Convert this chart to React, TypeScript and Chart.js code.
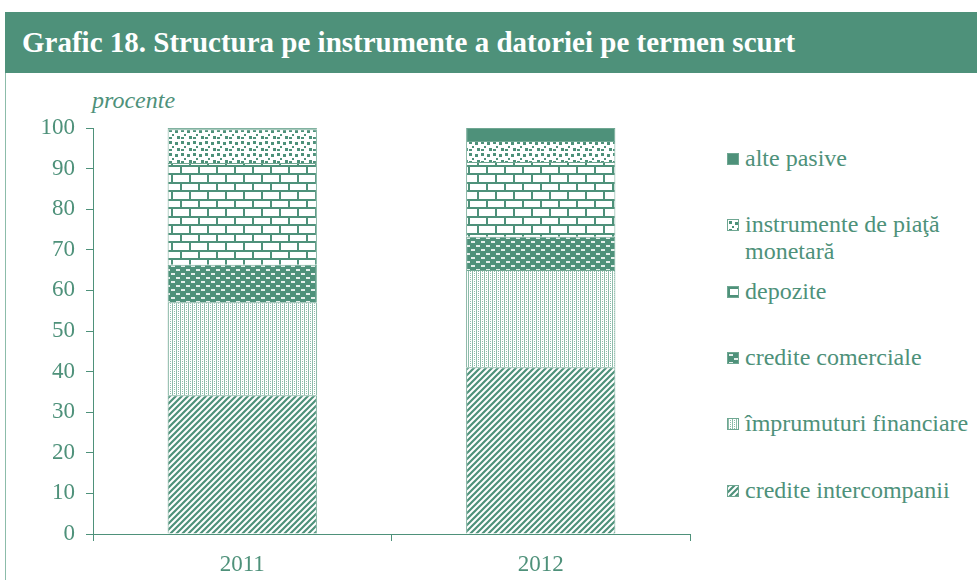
import React, { useEffect, useRef } from "react";
import { Chart, registerables } from "chart.js";

Chart.register(...registerables);

const categories = ["2011", "2012"];
const crediteIntercompanii = [34.2, 41.1];
const imprumuturiFinanciare = [22.9, 23.9];
const crediteComerciale = [9.2, 8.2];
const depozite = [25.1, 18.4];
const instrumentePiata = [8.3, 5.2];
const altePasive = [0.3, 3.2];
const yTicks = [0, 10, 20, 30, 40, 50, 60, 70, 80, 90, 100];

const G = "#4E917A";
const FONT = "'Liberation Serif', 'Times New Roman', serif";

function makeTile(w: number, h: number, draw: (c: CanvasRenderingContext2D) => void) {
  const cv = document.createElement("canvas");
  cv.width = w;
  cv.height = h;
  const c = cv.getContext("2d")!;
  draw(c);
  return cv;
}

function tiles() {
  const diag = makeTile(6, 6, (c) => {
    c.fillStyle = "#fff";
    c.fillRect(0, 0, 6, 6);
    c.strokeStyle = G;
    c.lineWidth = 2.2;
    c.beginPath();
    c.moveTo(0, 6); c.lineTo(6, 0);
    c.moveTo(-1, 1); c.lineTo(1, -1);
    c.moveTo(5, 7); c.lineTo(7, 5);
    c.stroke();
  });
  const dots = makeTile(4, 4, (c) => {
    c.fillStyle = "#fff";
    c.fillRect(0, 0, 4, 4);
    c.fillStyle = "#8dbcaa";
    c.fillRect(0, 0, 1, 4);
    c.fillRect(2, 1, 1, 1);
    c.fillRect(2, 3, 1, 1);
  });
  const dashes = makeTile(10, 8, (c) => {
    c.fillStyle = G;
    c.fillRect(0, 0, 10, 8);
    c.fillStyle = "rgba(255,255,255,0.85)";
    c.fillRect(1, 1, 4, 2);
    c.fillRect(6, 5, 4, 2);
  });
  const brick = makeTile(18, 17, (c) => {
    c.fillStyle = "#fff";
    c.fillRect(0, 0, 18, 17);
    c.fillStyle = G;
    c.fillRect(0, 0, 18, 2);
    c.fillRect(0, 8, 18, 2);
    c.fillRect(0, 2, 2, 6);
    c.fillRect(9, 10, 2, 7);
  });
  const squares = makeTile(12, 12, (c) => {
    c.fillStyle = "#fff";
    c.fillRect(0, 0, 12, 12);
    c.fillStyle = G;
    c.fillRect(1, 1, 3, 3);
    c.fillRect(7, 2, 3, 3);
    c.fillRect(4, 6, 2, 2);
    c.fillRect(9, 8, 3, 3);
    c.fillRect(1, 9, 3, 2);
  });
  const solid = makeTile(4, 4, (c) => {
    c.fillStyle = G;
    c.fillRect(0, 0, 4, 4);
  });
  return { diag, dots, dashes, brick, squares, solid };
}

const legendItems = [
  { key: "solid", lines: ["alte pasive"], top: 145 },
  { key: "squares", lines: ["instrumente de piaţă", "monetară"], top: 211 },
  { key: "brick", lines: ["depozite"], top: 278 },
  { key: "dashes", lines: ["credite comerciale"], top: 344 },
  { key: "dots", lines: ["împrumuturi financiare"], top: 410 },
  { key: "diag", lines: ["credite intercompanii"], top: 477 },
];

export default function App() {
  const ref = useRef<HTMLCanvasElement>(null);
  const [urls, setUrls] = React.useState<Record<string, string>>({});

  useEffect(() => {
    const t = tiles();
    const u: Record<string, string> = {};
    (Object.keys(t) as (keyof typeof t)[]).forEach((k) => (u[k] = t[k].toDataURL()));
    setUrls(u);
    const ctx = ref.current!.getContext("2d")!;
    const p = (cv: HTMLCanvasElement) => ctx.createPattern(cv, "repeat")!;
    const mk = (label: string, data: number[], bg: any) => ({
      label,
      data,
      backgroundColor: bg,
      borderColor: "#6fa792",
      borderWidth: 1,
      barPercentage: 0.5,
      categoryPercentage: 1,
    });
    const chart = new Chart(ctx, {
      type: "bar",
      data: {
        labels: categories,
        datasets: [
          mk("credite intercompanii", crediteIntercompanii, p(t.diag)),
          mk("împrumuturi financiare", imprumuturiFinanciare, p(t.dots)),
          mk("credite comerciale", crediteComerciale, p(t.dashes)),
          mk("depozite", depozite, p(t.brick)),
          mk("instrumente de piaţă monetară", instrumentePiata, p(t.squares)),
          mk("alte pasive", altePasive, G),
        ],
      },
      options: {
        responsive: false,
        maintainAspectRatio: false,
        animation: false,
        devicePixelRatio: 1,
        layout: { padding: { top: 48, right: 10, left: 0, bottom: 0 } },
        plugins: { legend: { display: false }, tooltip: { enabled: false } },
        scales: {
          x: {
            stacked: true,
            offset: true,
            grid: { display: true, drawOnChartArea: false, drawTicks: true, tickLength: 7, color: G, offset: true },
            border: { display: true, color: G, width: 1 },
            ticks: { color: G, font: { family: FONT, size: 23 }, padding: 10 },
            afterFit: (s: any) => { s.height = 46; },
          },
          y: {
            stacked: true,
            min: 0,
            max: 100,
            afterBuildTicks: (s: any) => { s.ticks = yTicks.map((v) => ({ value: v })); },
            grid: { display: true, drawOnChartArea: false, drawTicks: true, tickLength: 7, color: G },
            border: { display: true, color: G, width: 1 },
            ticks: { color: G, font: { family: FONT, size: 23 }, padding: 11 },
            afterFit: (s: any) => { s.width = 93; },
          },
        },
      },
    });
    return () => chart.destroy();
  }, []);

  return (
    <div style={{ position: "absolute", left: 0, top: 0, width: 977, height: 580, background: "#fff", overflow: "hidden", fontFamily: FONT }}>
      <div style={{ position: "absolute", left: 5, top: 73, width: 1, height: 507, background: "#8cbcaa" }} />
      <div style={{ position: "absolute", left: 5, top: 12, width: 972, height: 61, background: G, color: "#fff", fontWeight: "bold", fontSize: 29, lineHeight: "61px", paddingLeft: 17, boxSizing: "border-box", whiteSpace: "nowrap" }}>
        Grafic 18. Structura pe instrumente a datoriei pe termen scurt
      </div>
      <div style={{ position: "absolute", left: 92, top: 86, fontStyle: "italic", fontSize: 24, color: G, lineHeight: "28px" }}>procente</div>
      <canvas ref={ref} width={700} height={500} style={{ position: "absolute", left: 0, top: 80, width: 700, height: 500 }} />
      {legendItems.map((it) => (
        <div key={it.key} style={{ position: "absolute", left: 727, top: it.top, color: G, fontSize: 24, lineHeight: "27px" }}>
          <div style={{ position: "absolute", left: 0, top: 8, width: 12, height: 12, boxSizing: "border-box", border: "1px solid #6fa792", backgroundImage: urls[it.key] ? `url(${urls[it.key]})` : undefined }} />
          <div style={{ marginLeft: 18, whiteSpace: "nowrap" }}>
            {it.lines.map((l, i) => (<div key={i}>{l}</div>))}
          </div>
        </div>
      ))}
    </div>
  );
}
